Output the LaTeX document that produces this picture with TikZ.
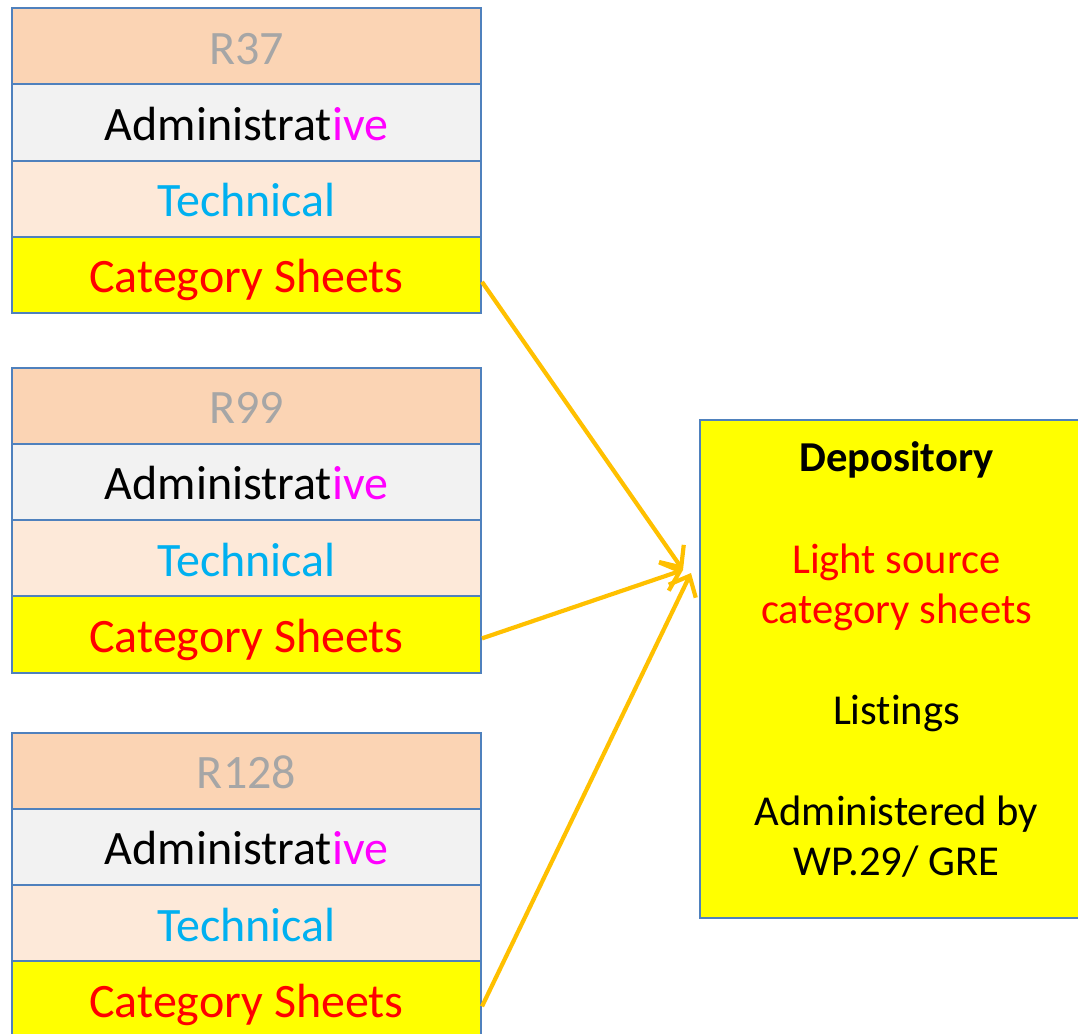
\documentclass[tikz,border=0pt]{standalone}
\usepackage{fontspec}
\setmainfont[Ligatures=NoCommon]{Carlito}
\usetikzlibrary{arrows.meta}
\definecolor{bordc}{HTML}{4F81BD}
\definecolor{hdrfill}{HTML}{FBD4B4}
\definecolor{admfill}{HTML}{F2F2F2}
\definecolor{tecfill}{HTML}{FDE9D9}
\definecolor{hdrtext}{HTML}{A6A6A6}
\definecolor{tectext}{HTML}{00B0F0}
\definecolor{arrc}{HTML}{FFC000}
\definecolor{magc}{HTML}{FF00FF}
\definecolor{yel}{RGB}{255,255,0}
\definecolor{redc}{RGB}{255,0,0}
\tikzset{
  row/.style={draw=bordc, line width=2pt, minimum width=469pt, minimum height=76.25pt,
    anchor=north west, inner sep=0pt, text height=36pt, text depth=0pt,
    font=\fontsize{48}{56}\selectfont},
  hdrrow/.style={row, fill=hdrfill, text=hdrtext},
  admrow/.style={row, fill=admfill, text=black},
  tecrow/.style={row, fill=tecfill, text=tectext},
  catrow/.style={row, fill=yel, text=redc},
  deptext/.style={anchor=base, inner sep=0pt, font=\fontsize{42.6}{50}\selectfont},
  link/.style={draw=arrc, line width=4.2pt, -{Straight Barb[length=17pt, width=30pt, line width=4.2pt]}}
}
\begin{document}
\begin{tikzpicture}[x=1pt, y=-1pt]
\useasboundingbox (0,0) rectangle (1078,1033);
\begin{scope}
\clip (0,0) rectangle (1078,1033);
% group 1
\node[hdrrow] (h1) at (11,7) {R37};
\node[admrow] (a1) at (11,83.25) {Administrat\textcolor{magc}{ive}};
\node[tecrow] (t1) at (11,159.5) {Technical};
\node[catrow] (c1) at (11,235.75) {Category Sheets};
% group 2
\node[hdrrow] (h2) at (11,366.5) {R99};
\node[admrow] (a2) at (11,442.75) {Administrat\textcolor{magc}{ive}};
\node[tecrow] (t2) at (11,519) {Technical};
\node[catrow] (c2) at (11,595.25) {Category Sheets};
% group 3
\node[hdrrow] (h3) at (11,731.5) {R128};
\node[admrow] (a3) at (11,807.75) {Administrat\textcolor{magc}{ive}};
\node[tecrow] (t3) at (11,884) {Technical};
\node[catrow] (c3) at (11,960.25) {Category Sheets};
% depository
\node[draw=bordc, line width=2pt, fill=yel, anchor=north west, minimum width=400pt,
  minimum height=498pt, inner sep=0pt] (dep) at (699,418.5) {};
\end{scope}
\node[deptext] (d1) at (896.5,471) {\bfseries Depository};
\node[deptext, text=redc] (d2) at (896.5,573) {Light source};
\node[deptext, text=redc] (d3) at (896.5,623) {category sheets};
\node[deptext] (d4) at (896.5,724) {Listings};
\node[deptext] (d5) at (896.5,825) {Administered by};
\node[deptext] (d6) at (896.5,875.5) {WP.29/ GRE};
% arrows
\coordinate (e1) at (683,570);
\coordinate (e2) at (683,570);
\coordinate (e3) at (691,573);
\draw[link] ([yshift=-7pt]c1.east) -- (e1);
\draw[link] ([yshift=-4pt]c2.east) -- (e2);
\draw[link] ([yshift=-7pt]c3.east) -- (e3);
\end{tikzpicture}
\end{document}
